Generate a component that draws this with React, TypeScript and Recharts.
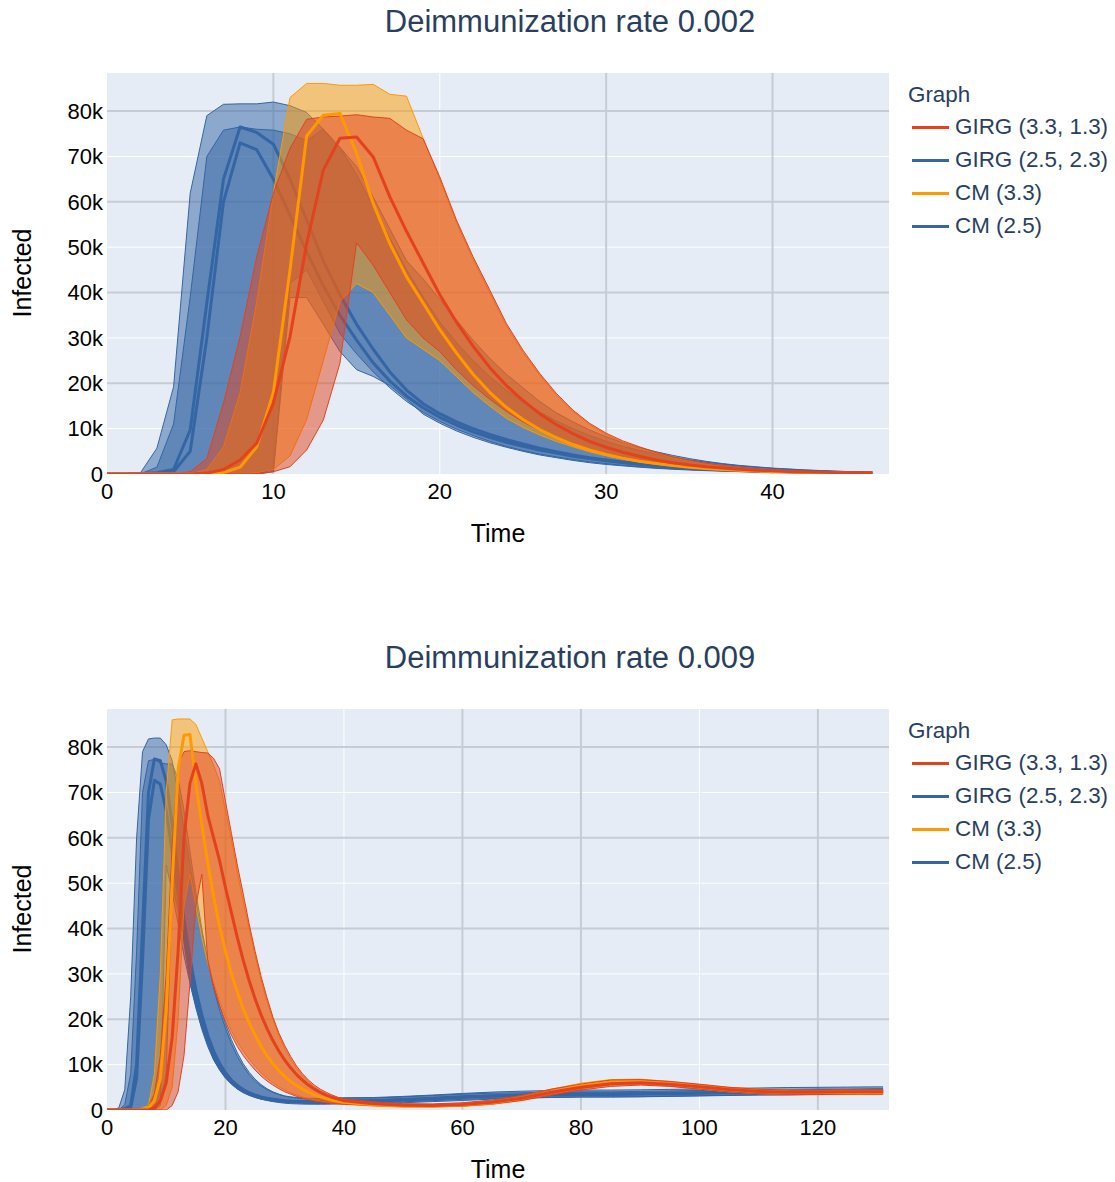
import React from 'react';
import { ComposedChart, Area, Line, XAxis, YAxis, CartesianGrid } from 'recharts';

const FONT = '"Liberation Sans", Arial, Helvetica, sans-serif';
const BLUE = '#3465a4';
const RED = '#e2431e';
const ORANGE = '#ff9900';
const TITLE_COLOR = '#2a3f5f';

// ---------- Deimmunization rate 0.002 (values in thousands) ----------
const topTime = [0,1,2,3,4,5,6,7,8,9,10,11,12,13,14,15,16,17,18,19,20,21,22,23,24,25,26,27,28,29,30,31,32,33,34,35,36,37,38,39,40,41,42,43,44,45,46];

const topGirg33Mean = [0,0,0,0,0,0,0.2,1,3.1,6.8,15.6,30.3,50.8,67,74,74.3,69.9,61.1,53.5,46.5,39.5,33.5,28.2,23.5,19.5,16.2,13.3,10.9,8.9,7.2,5.9,4.8,3.9,3.1,2.5,2.0,1.6,1.3,1.05,0.85,0.7,0.55,0.45,0.37,0.3,0.25,0.2];
const topGirg33Lo = [0,0,0,0,0,0,0,0,0,0,0.5,1.6,5.3,11.9,24.4,51,46,40,34,30,27,23,19.5,16.5,13.8,11.5,9.6,8,6.6,5.5,4.5,3.7,3.05,2.5,2.05,1.7,1.4,1.15,0.95,0.78,0.64,0.52,0.43,0.35,0.29,0.24,0.19];
const topGirg33Hi = [0,0,0,0,0,0.5,3.4,15.6,30.3,47.9,61.9,71.8,78.2,78.7,78.9,79.2,78.7,78.4,75.8,73.9,65.5,56,47.9,40.6,33.2,27.3,22.2,17.8,14.1,11.2,9,7.3,6,4.8,3.8,3,2.4,1.9,1.5,1.2,0.9,0.75,0.6,0.48,0.38,0.3,0.24];

const topGirg25Mean = [0,0,0,0,0.5,5,30,60,73,71.5,65,57,49,41.5,35,29.5,24.5,20.5,17.2,14.6,12.5,10.8,9.3,8.1,7,6.1,5.3,4.6,3.9,3.4,2.9,2.5,2.1,1.8,1.5,1.28,1.09,0.92,0.78,0.66,0.56,0.47,0.4,0.34,0.29,0.25,0.21];
const topGirg25Lo = [0,0,0,0,0,0,0,0,0,0,1.0,42,45,38,31,26.5,22.5,19,16,13.6,11.6,9.9,8.5,7.2,6.1,5.2,4.4,3.8,3.2,2.7,2.3,1.9,1.6,1.35,1.15,0.97,0.82,0.69,0.58,0.49,0.41,0.35,0.29,0.25,0.21,0.17,0.14];
const topGirg25Hi = [0,0,0,1.5,11,39,70,75.8,76.5,76,75.8,75,73.5,76,72,66,59,52,45,39,33.5,29,25,21.5,18.5,16,13.7,11.7,10,8.5,7.2,6.1,5.2,4.4,3.7,3.1,2.6,2.2,1.8,1.5,1.25,1.05,0.85,0.7,0.58,0.48,0.4];

const topCm33Mean = [0,0,0,0,0,0,0,0.3,1.5,6,18,45,74.5,79.1,79.5,70.7,59.6,50.8,43.5,37.7,31.8,26.7,22,18,14.7,12,9.8,8,6.5,5.3,4.3,3.5,2.8,2.3,1.85,1.5,1.2,1,0.8,0.65,0.5,0.42,0.34,0.27,0.22,0.18,0.15];
const topCm33Lo = [0,0,0,0,0,0,0,0,0,0.3,1,4,12,25,38,42,40,35,30,27.5,25,21.5,18,15,12.3,10.3,8.6,7.2,6,4.9,4.0,3.25,2.65,2.15,1.75,1.42,1.15,0.93,0.75,0.6,0.48,0.39,0.31,0.25,0.2,0.16,0.13];
const topCm33Hi = [0,0,0,0,0,0,1,6,18,38,62,83,86.1,86.1,85.7,85.7,85.9,83.7,83.3,74,65,55.5,47.3,40,32.7,26.8,21.8,17.4,13.8,10.9,8.7,7,5.7,4.6,3.6,2.9,2.3,1.8,1.4,1.1,0.85,0.68,0.54,0.43,0.34,0.27,0.21];

const topCm25Mean = [0,0,0.1,0.3,1.0,9.7,37.7,65,76.5,75.3,72.7,65,56,47,39.5,33,27.5,22.5,18.5,15.5,13.3,11.5,10,8.7,7.6,6.6,5.7,4.9,4.2,3.6,3.1,2.65,2.25,1.9,1.6,1.35,1.15,0.97,0.82,0.7,0.59,0.5,0.42,0.36,0.3,0.26,0.22];
const topCm25Lo = [0,0,0,0,0,0,0,0,0,0,0.5,38.9,38.9,33,27,23,21.5,19.5,16.5,13.2,11.2,9.5,8.1,6.9,5.9,5,4.2,3.6,3,2.5,2.1,1.8,1.5,1.25,1.05,0.88,0.74,0.62,0.52,0.44,0.37,0.31,0.26,0.22,0.18,0.15,0.13];
const topCm25Hi = [0,0,0.2,5.7,19.2,61.9,79,81.5,81.6,81.6,82,81.2,79.7,76,72,67.8,61,54,47,43,38.5,34,29.5,25.5,22,19,16,13.5,11.5,9.7,8.2,6.9,5.8,4.9,4.1,3.4,2.8,2.3,1.9,1.6,1.3,1.1,0.9,0.75,0.6,0.5,0.4];

// ---------- Deimmunization rate 0.009 (values in thousands) ----------
const botTime = [0,1,2,3,4,5,6,7,8,9,10,11,12,13,14,15,16,17,18,19,20,21,22,23,24,25,26,27,28,29,30,31,32,33,34,35,36,37,38,39,40,45,50,55,60,65,70,75,80,85,90,95,100,105,110,115,120,125,130,131];

const botGirg33Mean = [0,0,0,0,0,0,0,0,0.5,2,6,16,35,60,72,76.3,72,65,60,55,49,43.5,38,33,28.5,24.5,21,18,15.3,13,11,9.3,7.8,6.6,5.5,4.6,3.9,3.3,2.8,2.4,2.05,
  1.35,1.05,1.0,1.2,1.7,2.6,3.9,5.0,5.8,6.0,5.7,5.1,4.5,4.1,3.9,3.9,4.0,4.0,4.0];
const botGirg33Lo = [0,0,0,0,0,0,0,0,0,0,0,1,4,12,28,45,52,33,27,23,19.5,16.5,14,12,10.3,8.8,7.5,6.4,5.5,4.7,4.0,3.5,3.0,2.6,2.3,2.0,1.8,1.6,1.45,1.35,1.25,
  1.0,0.75,0.7,0.85,1.3,2.1,3.3,4.4,5.2,5.5,5.2,4.6,4.0,3.6,3.4,3.4,3.5,3.5,3.5];
const botGirg33Hi = [0,0,0,0,0,0,0,0.8,3.5,12,30,58,76,79,79.2,79,78.8,78.7,77.5,75.2,68,61,54,47.6,41,35,29.5,24.8,20.5,17,14.2,11.8,9.7,8,6.6,5.5,4.6,3.9,3.3,2.8,2.45,
  1.8,1.4,1.35,1.6,2.2,3.2,4.6,5.7,6.6,6.7,6.3,5.7,5.0,4.6,4.4,4.4,4.5,4.5,4.5];

const botGirg25Mean = [0,0,0,0,0.5,7,33,64,72.7,71.8,66,57,47.5,38.5,30.5,24,19,15,11.8,9.4,7.5,6.1,5,4.2,3.6,3.1,2.7,2.45,2.25,2.1,2.0,1.93,1.88,1.85,1.84,1.84,1.85,1.87,1.9,1.95,2.0,
  2.1,2.3,2.6,2.9,3.1,3.2,3.3,3.4,3.4,3.5,3.6,3.7,3.8,3.9,3.9,4.0,4.0,4.1,4.1];
const botGirg25Lo = [0,0,0,0,0,0,0,0,0,2,8,50,44,37,28,22.5,17.8,14,11,8.8,7,5.7,4.6,3.8,3.2,2.75,2.4,2.15,1.95,1.8,1.7,1.6,1.53,1.48,1.45,1.44,1.44,1.45,1.47,1.5,1.55,
  1.6,1.8,2.05,2.35,2.55,2.65,2.75,2.85,2.85,2.95,3.05,3.15,3.25,3.35,3.35,3.45,3.45,3.55,3.55];
const botGirg25Hi = [0,0,0,1.2,8,35,70,77,77.3,76.5,76.3,76.3,73,66,57,48,40,33,27,22,18,14.6,11.8,9.6,7.8,6.4,5.3,4.5,3.9,3.4,3.05,2.8,2.65,2.55,2.5,2.48,2.48,2.5,2.52,2.56,2.6,
  2.65,2.9,3.2,3.5,3.7,3.8,3.9,4.0,4.0,4.1,4.2,4.3,4.4,4.5,4.5,4.6,4.6,4.7,4.7];

const botCm33Mean = [0,0,0,0,0,0,0,0.5,2,7,22,50,75,82.6,82.8,72,63,54.5,47,40.5,35,30,26,22.3,19.2,16.5,14,12,10.2,8.7,7.4,6.3,5.4,4.6,3.9,3.35,2.9,2.5,2.15,1.9,1.7,
  1.15,0.9,0.9,1.1,1.6,2.6,4.0,5.3,6.1,6.2,5.8,5.1,4.5,4.1,3.9,3.85,3.9,3.9,3.9];
const botCm33Lo = [0,0,0,0,0,0,0,0,0,0,1,5,20,45,52,45,38,32.5,28,24,20.5,17.5,15,13,11.2,9.6,8.2,7,6,5.1,4.4,3.8,3.3,2.85,2.5,2.2,1.95,1.75,1.58,1.44,1.32,
  0.85,0.65,0.65,0.8,1.25,2.1,3.4,4.7,5.5,5.7,5.3,4.6,4.0,3.6,3.4,3.4,3.45,3.45,3.45];
const botCm33Hi = [0,0,0,0,0,0,0.5,1,8,30,70,86,86.2,86.2,86.2,85,82,79,76,72.5,66,59.5,52.5,46,40,34,28.7,24,20,16.5,13.6,11.2,9.2,7.6,6.2,5.1,4.2,3.5,2.9,2.5,2.2,
  1.5,1.2,1.2,1.45,2.0,3.1,4.6,5.9,6.7,6.8,6.3,5.6,5.0,4.6,4.4,4.3,4.35,4.35,4.35];

const botCm25Mean = [0,0,0,0.3,1,10,40,70,77.4,77,72.5,63,52,42,33.5,26.5,21,16.5,13,10.3,8.2,6.6,5.4,4.5,3.8,3.3,2.9,2.6,2.35,2.2,2.05,1.95,1.9,1.85,1.82,1.8,1.8,1.8,1.82,1.85,1.9,
  2.0,2.2,2.5,2.8,3.1,3.3,3.5,3.6,3.6,3.6,3.7,3.8,3.9,4.0,4.1,4.2,4.2,4.3,4.3];
const botCm25Lo = [0,0,0,0,0,0,0,0,0,1,54,48,41,34,28,23,18.5,15,11.2,9,7.2,5.8,4.7,3.9,3.3,2.8,2.4,2.1,1.85,1.65,1.5,1.4,1.35,1.3,1.28,1.27,1.27,1.28,1.3,1.33,1.37,
  1.45,1.6,1.85,2.1,2.4,2.6,2.8,2.9,2.9,2.9,3.0,3.1,3.2,3.3,3.35,3.4,3.45,3.5,3.5];
const botCm25Hi = [0,0,0.5,4.5,25,60,79,81.8,82,82,80.5,77,70,62,54,46,39,33,27.5,23,19,15.5,12.6,10.2,8.3,6.8,5.6,4.7,4,3.5,3.1,2.9,2.75,2.65,2.6,2.55,2.55,2.55,2.6,2.65,2.7,
  2.75,3.0,3.3,3.65,3.95,4.15,4.3,4.4,4.4,4.45,4.55,4.65,4.75,4.85,4.95,5.0,5.05,5.1,5.1];

const yTicks = [0, 10, 20, 30, 40, 50, 60, 70, 80];
const topXTicks = [0, 10, 20, 30, 40];
const botXTicks = [0, 20, 40, 60, 80, 100, 120];

const legendItems = [
  { name: 'GIRG (3.3, 1.3)', color: RED },
  { name: 'GIRG (2.5, 2.3)', color: BLUE },
  { name: 'CM (3.3)', color: ORANGE },
  { name: 'CM (2.5)', color: BLUE },
];

type S = { key: string; mean: number[]; lo: number[]; hi: number[] };

function buildRows(time: number[], series: S[]) {
  return time.map((tv, i) => {
    const r: any = { t: tv };
    series.forEach((s) => {
      r[s.key] = s.mean[i];
      r[s.key + 'Band'] = [s.lo[i], s.hi[i]];
    });
    return r;
  });
}

const topRows = buildRows(topTime, [
  { key: 'girg33', mean: topGirg33Mean, lo: topGirg33Lo, hi: topGirg33Hi },
  { key: 'girg25', mean: topGirg25Mean, lo: topGirg25Lo, hi: topGirg25Hi },
  { key: 'cm33', mean: topCm33Mean, lo: topCm33Lo, hi: topCm33Hi },
  { key: 'cm25', mean: topCm25Mean, lo: topCm25Lo, hi: topCm25Hi },
]);
const botRows = buildRows(botTime, [
  { key: 'girg33', mean: botGirg33Mean, lo: botGirg33Lo, hi: botGirg33Hi },
  { key: 'girg25', mean: botGirg25Mean, lo: botGirg25Lo, hi: botGirg25Hi },
  { key: 'cm33', mean: botCm33Mean, lo: botCm33Lo, hi: botCm33Hi },
  { key: 'cm25', mean: botCm25Mean, lo: botCm25Lo, hi: botCm25Hi },
]);

const band = (key: string, color: string, z: number) => (
  <Area
    key={key + 'Band'}
    type="linear"
    dataKey={key + 'Band'}
    stroke={color}
    strokeWidth={1}
    fill={color}
    fillOpacity={0.5}
    dot={false}
    activeDot={false}
    isAnimationActive={false}
    zIndex={z}
  />
);
const line = (key: string, color: string, z: number) => (
  <Line
    key={key + 'Line'}
    type="linear"
    dataKey={key}
    stroke={color}
    strokeWidth={3}
    strokeLinejoin="round"
    dot={false}
    activeDot={false}
    isAnimationActive={false}
    zIndex={z}
  />
);

function Panel(props: {
  title: string;
  rows: any[];
  xMax: number;
  xTicks: number[];
  whiteX: number[];
  greyX: number[];
}) {
  const { title, rows, xMax, xTicks, whiteX, greyX } = props;
  return (
    <div style={{ position: 'relative', width: 1115, height: 636, fontFamily: FONT }}>
      <ComposedChart width={1115} height={636} data={rows} margin={{ top: 73, right: 226, bottom: 0, left: 0 }}>
        <CartesianGrid fill="#e5ecf6" stroke="#ffffff" strokeWidth={1} horizontalValues={[10, 30, 50, 70]} verticalValues={whiteX} />
        <CartesianGrid stroke="#c8ccd2" strokeWidth={2} horizontalValues={[20, 40, 60, 80]} verticalValues={greyX} />
        <XAxis
          type="number"
          dataKey="t"
          domain={[0, xMax]}
          ticks={xTicks}
          interval={0}
          allowDataOverflow
          axisLine={false}
          tickLine={false}
          tickSize={0}
          tickMargin={9}
          height={162}
          tick={{ fontSize: 22, fill: '#000', fontFamily: FONT }}
        />
        <YAxis
          type="number"
          domain={[0, 88.4]}
          ticks={yTicks}
          interval={0}
          allowDataOverflow
          axisLine={false}
          tickLine={false}
          tickSize={0}
          tickMargin={4}
          width={107}
          tickFormatter={(v: number) => (v === 0 ? '0' : v + 'k')}
          tick={{ fontSize: 22, fill: '#000', fontFamily: FONT }}
        />
        {band('cm25', BLUE, 100)}
        {band('girg25', BLUE, 101)}
        {line('cm25', BLUE, 102)}
        {line('girg25', BLUE, 103)}
        {band('cm33', ORANGE, 104)}
        {band('girg33', RED, 105)}
        {line('cm33', ORANGE, 106)}
        {line('girg33', RED, 107)}
      </ComposedChart>
      <div style={{ position: 'absolute', left: 0, width: 1140, top: 5, height: 34, lineHeight: '34px', textAlign: 'center', fontSize: 31, color: TITLE_COLOR }}>
        {title}
      </div>
      <div style={{ position: 'absolute', left: 398, width: 200, top: 518, height: 30, lineHeight: '30px', textAlign: 'center', fontSize: 25, color: '#000' }}>
        Time
      </div>
      <div
        style={{
          position: 'absolute',
          left: 22 - 100,
          top: 273 - 15,
          width: 200,
          height: 30,
          lineHeight: '30px',
          textAlign: 'center',
          fontSize: 25,
          color: '#000',
          transform: 'rotate(-90deg)',
        }}
      >
        Infected
      </div>
      <div style={{ position: 'absolute', left: 908, top: 82, height: 26, lineHeight: '26px', fontSize: 22.4, color: TITLE_COLOR }}>Graph</div>
      {legendItems.map((it, i) => (
        <div key={it.name} style={{ position: 'absolute', left: 912, top: 114 + i * 33, height: 26, display: 'flex', alignItems: 'center' }}>
          <div style={{ width: 37, height: 3, background: it.color }} />
          <div style={{ marginLeft: 6, fontSize: 22.4, lineHeight: '26px', color: TITLE_COLOR, whiteSpace: 'nowrap' }}>{it.name}</div>
        </div>
      ))}
    </div>
  );
}

export default function App() {
  return (
    <div style={{ position: 'absolute', left: 0, top: 0, width: 1115, height: 1182, background: '#fff' }}>
      <Panel title="Deimmunization rate 0.002" rows={topRows} xMax={47} xTicks={topXTicks} whiteX={[20]} greyX={[10, 30, 40]} />
      <Panel title="Deimmunization rate 0.009" rows={botRows} xMax={132} xTicks={botXTicks} whiteX={[40, 100]} greyX={[20, 60, 80, 120]} />
    </div>
  );
}
